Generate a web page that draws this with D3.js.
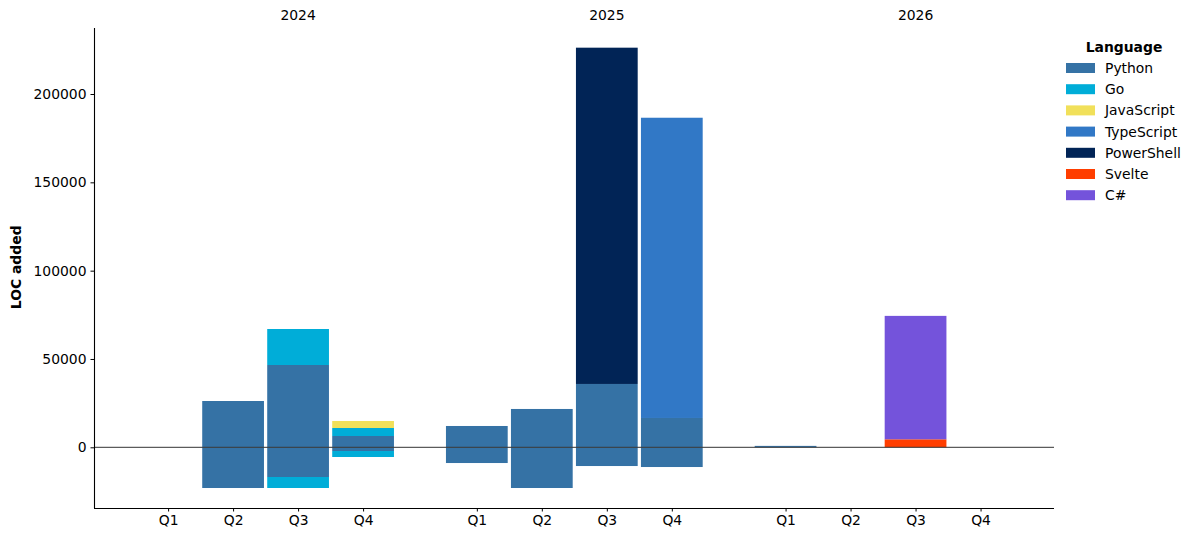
<!DOCTYPE html>
<html>
<head>
<meta charset="utf-8">
<script src="https://cdn.jsdelivr.net/npm/d3@7"></script>
<style>
  body { margin: 0; background: #fff; }
  svg text { font-family: "DejaVu Sans", sans-serif; fill: #000; }
</style>
</head>
<body>
<svg id="chart" width="1198" height="542"></svg>
<script>
// Periods and labels
const years = ["2024", "2025", "2026"];
const quarters = ["Q1", "Q2", "Q3", "Q4"];

const languages = ["Python", "Go", "JavaScript", "TypeScript", "PowerShell", "Svelte", "C#"];
const colors = ["#3572a5", "#00add8", "#f1e05a", "#3178c6", "#012456", "#ff3e00", "#7453db"];

// LOC per quarter (2024 Q1 .. 2026 Q4); added above zero, removed below
const pythonAdded     = [0, 26210, 46590, 6400, 12070, 21700, 35860, 16600, 800, 0, 0, 0];
const pythonRemoved   = [0, -23040, -16810, -2100, -8900, -23040, -10600, -11160, 0, 0, 0, 0];
const goAdded         = [0, 0, 20380, 4530, 0, 0, 0, 0, 0, 0, 0, 0];
const goRemoved       = [0, 0, -6230, -3390, 0, 0, 0, 0, 0, 0, 0, 0];
const javascriptAdded = [0, 0, 0, 3960, 0, 0, 0, 0, 0, 0, 0, 0];
const typescriptAdded = [0, 0, 0, 0, 0, 0, 0, 169970, 0, 0, 0, 0];
const powershellAdded = [0, 0, 0, 0, 0, 0, 190370, 0, 0, 0, 0, 0];
const svelteAdded     = [0, 0, 0, 0, 0, 0, 0, 0, 0, 0, 4530, 0];
const csharpAdded     = [0, 0, 0, 0, 0, 0, 0, 0, 0, 0, 69870, 0];

const series = [
  {lang: "Python", values: pythonAdded},
  {lang: "Go", values: goAdded},
  {lang: "JavaScript", values: javascriptAdded},
  {lang: "TypeScript", values: typescriptAdded},
  {lang: "PowerShell", values: powershellAdded},
  {lang: "Svelte", values: svelteAdded},
  {lang: "C#", values: csharpAdded},
  {lang: "Python", values: pythonRemoved},
  {lang: "Go", values: goRemoved}
];

const color = d3.scaleOrdinal().domain(languages).range(colors);
const fs = "13.9px";

// one row per (year, quarter)
const rows = [];
years.forEach((y, j) => quarters.forEach((q, i) => {
  const k = j * 4 + i;
  const row = {year: y, quarter: q, pos: j * 4.75 + i};
  series.forEach((s, si) => row["s" + si] = s.values[k]);
  rows.push(row);
}));

const stacked = d3.stack()
    .keys(series.map((s, si) => "s" + si))
    .offset(d3.stackOffsetDiverging)(rows);

const svg = d3.select("#chart");
const margin = {top: 28, right: 144, bottom: 34, left: 94},
      width = 1198 - margin.left - margin.right,
      height = 542 - margin.top - margin.bottom;

const g = svg.append("g")
    .attr("transform", "translate(" + margin.left + "," + margin.top + ")");

const x = d3.scaleLinear()
    .domain([-1.14, 12.5 + 1.13])
    .range([0, width]);

const y = d3.scaleLinear()
    .domain([-34360, 237370])
    .range([height, 0]);

const barW = x(0.95) - x(0);

// bars
g.selectAll("g.layer")
  .data(stacked)
  .join("g")
    .attr("class", "layer")
    .attr("fill", (d, i) => color(series[i].lang))
  .selectAll("rect")
  .data(d => d.filter(p => p[1] !== p[0]))
  .join("rect")
    .attr("x", d => x(d.data.pos) - barW / 2)
    .attr("width", barW)
    .attr("y", d => y(Math.max(d[0], d[1])))
    .attr("height", d => Math.abs(y(d[0]) - y(d[1])));

// zero line
g.append("line")
    .attr("x1", 0).attr("x2", width)
    .attr("y1", y(0)).attr("y2", y(0))
    .attr("stroke", "#333")
    .attr("stroke-width", 1);

// axes
const yAxis = g.append("g")
    .call(d3.axisLeft(y).tickValues([0, 50000, 100000, 150000, 200000])
      .tickFormat(d3.format("d")).tickSize(3.5).tickPadding(4));
const xAxis = g.append("g")
    .attr("transform", "translate(0," + height + ")")
    .call(d3.axisBottom(x).tickValues(rows.map(r => r.pos))
      .tickFormat((d, i) => rows[i].quarter).tickSize(3.5).tickPadding(4));

[yAxis, xAxis].forEach(a => {
  a.selectAll("text").style("font-size", fs).attr("fill", "#000");
  a.selectAll("line").attr("stroke", "#000");
  a.select(".domain").attr("stroke", "#000").attr("stroke-width", 1.1);
});
yAxis.select(".domain").attr("d", "M0.5," + height + "V0");
xAxis.select(".domain").attr("d", "M0,0.5H" + width);

// year labels above Q3 of each year
g.selectAll("text.year")
  .data(years)
  .join("text")
    .attr("class", "year")
    .attr("x", (d, j) => x(j * 4.75 + 2))
    .attr("y", -8)
    .attr("text-anchor", "middle")
    .style("font-size", fs)
    .text(d => d);

// y label
svg.append("text")
    .attr("transform", "translate(21," + (margin.top + y(0) - 180) + ") rotate(-90)")
    .attr("text-anchor", "middle")
    .style("font-size", fs)
    .style("font-weight", "bold")
    .text("LOC added");

// legend
const legend = svg.append("g").attr("transform", "translate(1066,0)");
legend.append("text")
    .attr("x", 58).attr("y", 52)
    .attr("text-anchor", "middle")
    .style("font-size", fs)
    .style("font-weight", "bold")
    .text("Language");

const item = legend.selectAll("g.item")
  .data(languages)
  .join("g")
    .attr("class", "item")
    .attr("transform", (d, i) => "translate(0," + (68 + i * 21.2) + ")");
item.append("rect")
    .attr("x", 0).attr("y", -5)
    .attr("width", 29).attr("height", 10)
    .attr("fill", d => color(d));
item.append("text")
    .attr("x", 39).attr("y", 5)
    .style("font-size", fs)
    .text(d => d);
</script>
</body>
</html>
